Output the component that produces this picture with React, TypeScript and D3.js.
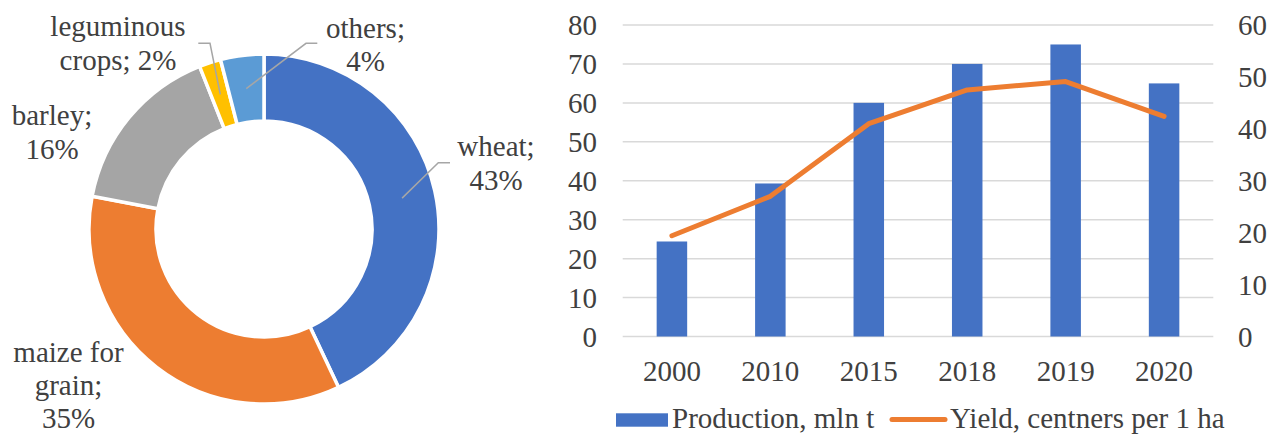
import React from "react";
import * as d3 from "d3";

// Structure of grain crop sowing (share, %)
const cropNames = ["wheat", "maize for grain", "barley", "leguminous crops", "others"];
const cropShares = [43, 35, 16, 2, 4];
const cropLabelLines = [
  ["wheat;", "43%"],
  ["maize for", "grain;", "35%"],
  ["barley;", "16%"],
  ["leguminous", "crops; 2%"],
  ["others;", "4%"],
];

// Production and yield by year
const years = ["2000", "2010", "2015", "2018", "2019", "2020"];
const production = [24.4, 39.3, 60, 70, 75, 65];
const yieldValues = [19.4, 27, 41, 47.5, 49.1, 42.4];
const leftTicks = [0, 10, 20, 30, 40, 50, 60, 70, 80];
const rightTicks = [0, 10, 20, 30, 40, 50, 60];

const W = 1281;
const H = 434;
const FONT = "'Liberation Serif', 'DejaVu Serif', 'Times New Roman', serif";
const TEXT = "#404040";
const SLICE_COLORS = ["#4472C4", "#ED7D31", "#A5A5A5", "#FFC000", "#5B9BD5"];
const textStyle = { fontFamily: FONT, fontSize: "29px", fill: TEXT } as React.CSSProperties;

// Donut layout
const cx = 264;
const cy = 229;
const rOuter = 175;
const rInner = 108;
const lineH = 34;

// Label placement per slice: text centre x, first baseline, optional leader elbow/end
const labelLayout = [
  { x: 496, y: 156, elbow: [438.3, 162.7], end: [450, 162.7] },
  { x: 68.5, y: 362, elbow: null, end: null, lh: 33 },
  { x: 52, y: 125, elbow: null, end: null },
  { x: 118, y: 36, elbow: [210, 43.3], end: [198.3, 43.3] },
  { x: 365.5, y: 38, elbow: [306, 43.3], end: [317.3, 43.3], lh: 33 },
];

// Combo chart layout
const plotLeft = 622.7;
const plotRight = 1213.3;
const plotTop = 25;
const plotBottom = 336.5;
const barFrac = 0.31;

export default function App() {
  const pie = d3
    .pie<number>()
    .sort(null)
    .value((d) => d)
    .startAngle(0)
    .endAngle(2 * Math.PI);
  const arcs = pie(cropShares);
  const arc = d3.arc<d3.PieArcDatum<number>>().innerRadius(rInner).outerRadius(rOuter);

  const x = d3.scaleBand<string>().domain(years).range([plotLeft, plotRight]).padding(0);
  const yL = d3.scaleLinear().domain([0, 80]).range([plotBottom, plotTop]);
  const yR = d3.scaleLinear().domain([0, 60]).range([plotBottom, plotTop]);
  const bw = x.bandwidth() * barFrac;
  const cxBand = (d: string) => (x(d) as number) + x.bandwidth() / 2;

  const line = d3
    .line<number>()
    .x((_, i) => cxBand(years[i]))
    .y((d) => yR(d));

  return (
    <svg
      width={W}
      height={H}
      viewBox={`0 0 ${W} ${H}`}
      style={{ position: "absolute", left: 0, top: 0, background: "#fff" }}
    >
      <rect width={W} height={H} fill="#fff" />

      {/* Donut */}
      <g transform={`translate(${cx},${cy})`}>
        {arcs.map((a, i) => (
          <path
            key={cropNames[i]}
            d={arc(a) || ""}
            fill={SLICE_COLORS[i]}
            stroke="#fff"
            strokeWidth={3.5}
            strokeLinejoin="miter"
          />
        ))}
      </g>

      {/* Leader lines */}
      {arcs.map((a, i) => {
        const lay = labelLayout[i];
        if (!lay.elbow || !lay.end) return null;
        const mid = (a.startAngle + a.endAngle) / 2;
        const rm = (rInner + rOuter) / 2;
        const sx = cx + rm * Math.sin(mid);
        const sy = cy - rm * Math.cos(mid);
        return (
          <polyline
            key={"leader-" + i}
            points={`${sx},${sy} ${lay.elbow[0]},${lay.elbow[1]} ${lay.end[0]},${lay.end[1]}`}
            fill="none"
            stroke="#A6A6A6"
            strokeWidth={1.5}
          />
        );
      })}

      {/* Slice labels */}
      {cropLabelLines.map((lines, i) => {
        const lay = labelLayout[i];
        const lh = lay.lh ?? lineH;
        return (
          <text key={"lbl-" + i} style={textStyle} textAnchor="middle">
            {lines.map((t, j) => (
              <tspan key={j} x={lay.x} y={lay.y + j * lh}>
                {t}
              </tspan>
            ))}
          </text>
        );
      })}

      {/* Gridlines */}
      {leftTicks.map((t) => (
        <line
          key={"g" + t}
          x1={plotLeft}
          x2={plotRight}
          y1={yL(t)}
          y2={yL(t)}
          stroke="#D9D9D9"
          strokeWidth={1.5}
        />
      ))}

      {/* Bars */}
      {years.map((yr, i) => (
        <rect
          key={"b" + yr}
          x={cxBand(yr) - bw / 2}
          y={yL(production[i])}
          width={bw}
          height={yL(0) - yL(production[i])}
          fill="#4472C4"
        />
      ))}

      {/* Yield line */}
      <path
        d={line(yieldValues) || ""}
        fill="none"
        stroke="#ED7D31"
        strokeWidth={5}
        strokeLinejoin="round"
        strokeLinecap="round"
      />

      {/* Left axis labels */}
      {leftTicks.map((t) => (
        <text key={"l" + t} x={597} y={yL(t) + 10} style={textStyle} textAnchor="end">
          {t}
        </text>
      ))}

      {/* Right axis labels */}
      {rightTicks.map((t) => (
        <text key={"r" + t} x={1238} y={yR(t) + 10} style={textStyle} textAnchor="start">
          {t}
        </text>
      ))}

      {/* Category labels */}
      {years.map((yr) => (
        <text key={"x" + yr} x={cxBand(yr)} y={381} style={textStyle} textAnchor="middle">
          {yr}
        </text>
      ))}

      {/* Legend */}
      <rect x={616} y={413.3} width={52} height={13.4} fill="#4472C4" />
      <text x={672} y={428} style={textStyle}>
        Production, mln t
      </text>
      <line
        x1={892}
        x2={945}
        y1={419.5}
        y2={419.5}
        stroke="#ED7D31"
        strokeWidth={5}
        strokeLinecap="round"
      />
      <text x={950} y={428} style={textStyle}>
        Yield, centners per 1 ha
      </text>
    </svg>
  );
}
